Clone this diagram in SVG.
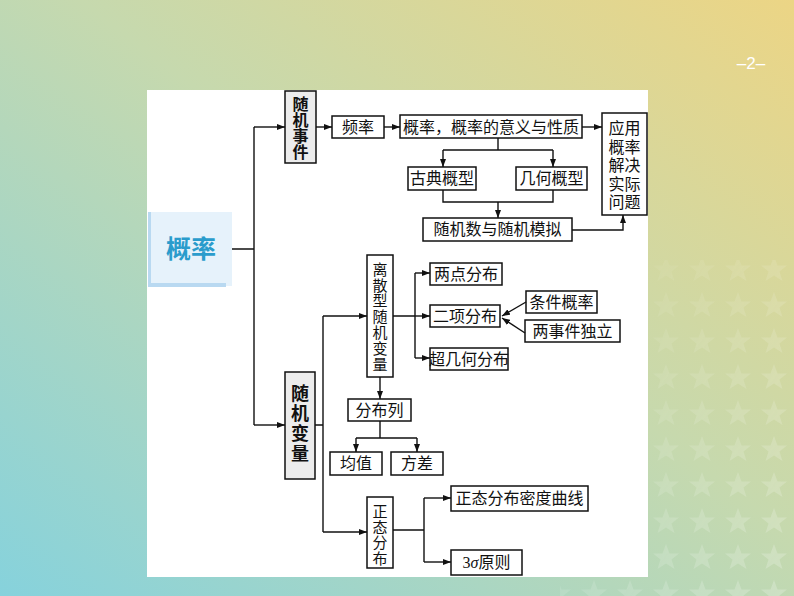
<svg xmlns="http://www.w3.org/2000/svg" width="794" height="596" viewBox="0 0 794 596">
<defs>
<linearGradient id="bg" x1="1" y1="0" x2="0" y2="1">
<stop offset="0" stop-color="#ecd585"/>
<stop offset="0.45" stop-color="#c6d9ae"/>
<stop offset="1" stop-color="#86d2dc"/>
</linearGradient>
<pattern id="stars" x="0" y="0" width="36" height="36" patternUnits="userSpaceOnUse">
<polygon points="18,4 21.5,13.5 31,13.5 23.5,19.5 26.5,29 18,23.5 9.5,29 12.5,19.5 5,13.5 14.5,13.5" fill="#ffffff"/>
</pattern>
<linearGradient id="starfade" x1="0" y1="0" x2="1" y2="1">
<stop offset="0" stop-color="#fff" stop-opacity="0"/>
<stop offset="1" stop-color="#fff" stop-opacity="1"/>
</linearGradient>
<mask id="starmask"><rect x="560" y="260" width="234" height="336" fill="url(#starfade)"/></mask>
<marker id="ah" markerWidth="8" markerHeight="6" refX="8" refY="3" orient="auto" markerUnits="userSpaceOnUse">
<path d="M0,0 L8,3 L0,6 z" fill="#111"/>
</marker>
</defs>
<style>
.box{fill:#fff;stroke:#111;stroke-width:1.5}
.gbox{fill:#ececec;stroke:#111;stroke-width:1.5}
.t{font-family:"Noto Sans CJK SC","Noto Sans",sans-serif;font-size:16px;fill:#111;text-anchor:middle}
.tl{font-family:"Liberation Sans","Noto Sans CJK SC",sans-serif;font-size:16px;fill:#111;text-anchor:middle}
.v{font-family:"Noto Sans CJK SC","Noto Sans",sans-serif;font-size:15px;fill:#111;text-anchor:middle;writing-mode:vertical-rl}
.vb{font-family:"Noto Sans CJK SC","Noto Sans",sans-serif;font-weight:bold;fill:#111;text-anchor:middle;writing-mode:vertical-rl}
.c{fill:none;stroke:#111;stroke-width:1.4}
.a{fill:none;stroke:#111;stroke-width:1.4;marker-end:url(#ah)}
</style>
<rect x="0" y="0" width="794" height="596" fill="url(#bg)"/>
<rect x="560" y="260" width="234" height="336" fill="url(#stars)" opacity="0.22" mask="url(#starmask)"/>
<text x="751" y="69" font-family="Liberation Sans, sans-serif" font-size="17" fill="#ffffff" text-anchor="middle">–2–</text>
<rect x="147" y="90" width="501" height="487" fill="#ffffff"/>

<g id="root">
<rect x="148" y="212" width="84" height="74" fill="#e6f2fb"/>
<rect x="148" y="212" width="3" height="74" fill="#b9d9f1"/>
<rect x="148" y="283" width="78" height="4" fill="#b9d9f1"/>
<text x="191" y="258" font-family="Noto Sans CJK SC, sans-serif" font-size="25" font-weight="bold" fill="#2a9ccc" text-anchor="middle">概率</text>
</g>

<g id="n-sjsj"><rect class="gbox" x="285" y="91" width="31" height="72"/>
<text class="vb" x="300.5" y="128" font-size="16">随机事件</text></g>
<g id="n-pl"><rect class="box" x="332" y="116" width="52" height="22"/><text class="t" x="358" y="133">频率</text></g>
<g id="n-gl"><rect class="box" x="400" y="115" width="182" height="23"/><text class="t" x="491" y="133" font-size="17">概率，概率的意义与性质</text></g>
<g id="n-yy"><rect class="box" x="602" y="113" width="45" height="102"/>
<text class="tl" x="624.5" y="134">应用</text><text class="tl" x="624.5" y="152.5">概率</text><text class="tl" x="624.5" y="171">解决</text><text class="tl" x="624.5" y="189.5">实际</text><text class="tl" x="624.5" y="208">问题</text></g>
<g id="n-gd"><rect class="box" x="408" y="167" width="68" height="23"/><text class="t" x="442" y="184">古典概型</text></g>
<g id="n-jh"><rect class="box" x="516" y="167" width="71" height="23"/><text class="t" x="551.5" y="184">几何概型</text></g>
<g id="n-sjs"><rect class="box" x="423" y="218" width="149" height="23"/><text class="t" x="497.5" y="235">随机数与随机模拟</text></g>

<g id="n-sjbl"><rect class="gbox" x="285" y="372" width="30" height="107"/>
<text class="vb" x="300" y="424" font-size="18" letter-spacing="2">随机变量</text></g>
<g id="n-ls"><rect class="box" x="367" y="255" width="26" height="122"/>
<text class="v" x="380" y="317" letter-spacing="0.8">离散型随机变量</text></g>
<g id="n-ld"><rect class="box" x="430" y="263" width="72" height="22"/><text class="t" x="466" y="280">两点分布</text></g>
<g id="n-ex"><rect class="box" x="430" y="305" width="70" height="22"/><text class="t" x="465" y="322">二项分布</text></g>
<g id="n-cjh"><rect class="box" x="430" y="348" width="78" height="22"/><text class="t" x="469" y="365">超几何分布</text></g>
<g id="n-tj"><rect class="box" x="526" y="291" width="71" height="22"/><text class="t" x="561.5" y="308">条件概率</text></g>
<g id="n-dl"><rect class="box" x="525" y="320" width="95" height="22"/><text class="t" x="572.5" y="337">两事件独立</text></g>
<g id="n-fbl"><rect class="box" x="348" y="399" width="63" height="22"/><text class="t" x="379.5" y="416">分布列</text></g>
<g id="n-jz"><rect class="box" x="330" y="452" width="52" height="23"/><text class="t" x="356" y="469">均值</text></g>
<g id="n-fc"><rect class="box" x="391" y="452" width="52" height="23"/><text class="t" x="417" y="469">方差</text></g>
<g id="n-zt"><rect class="box" x="367" y="497" width="26" height="71"/>
<text class="v" x="380" y="535" letter-spacing="0.4">正态分布</text></g>
<g id="n-md"><rect class="box" x="451" y="486" width="137" height="25"/><text class="t" x="519.5" y="504">正态分布密度曲线</text></g>
<g id="n-3s"><rect class="box" x="451" y="550" width="71" height="25"/><text x="486.5" y="568" font-family="Liberation Serif, serif" font-size="16" fill="#111" text-anchor="middle">3<tspan font-style="italic">σ</tspan><tspan font-family="Noto Sans CJK SC, sans-serif">原则</tspan></text></g>

<g id="connectors">
<path class="c" d="M232,249 H254 M254,127 V425"/>
<path class="a" d="M254,127 H285"/>
<path class="a" d="M254,425 H285"/>
<path class="a" d="M316,127 H332"/>
<path class="a" d="M384,127 H400"/>
<path class="a" d="M582,127 H602"/>
<path class="c" d="M498,138 V150 M443,150 H553"/>
<path class="a" d="M443,150 V167"/>
<path class="a" d="M553,150 V167"/>
<path class="c" d="M443,190 V202 H553 V190"/>
<path class="a" d="M498,202 V218"/>
<path class="a" d="M572,230 H623 V215"/>
<path class="c" d="M315,425 H323 M323,316 V532"/>
<path class="a" d="M323,316 H367"/>
<path class="a" d="M323,532 H367"/>
<path class="c" d="M393,316 H415 M415,273 V358"/>
<path class="a" d="M415,273 H430"/>
<path class="a" d="M415,316 H430"/>
<path class="a" d="M415,358 H430"/>
<path class="a" d="M526,302 L502,316"/>
<path class="a" d="M525,333 L502,318"/>
<path class="a" d="M380,377 V399"/>
<path class="c" d="M380,421 V438 M356,438 H417"/>
<path class="a" d="M356,438 V452"/>
<path class="a" d="M417,438 V452"/>
<path class="c" d="M393,530 H424 M424,498 V562"/>
<path class="a" d="M424,498 H451"/>
<path class="a" d="M424,562 H451"/>
</g>
</svg>
